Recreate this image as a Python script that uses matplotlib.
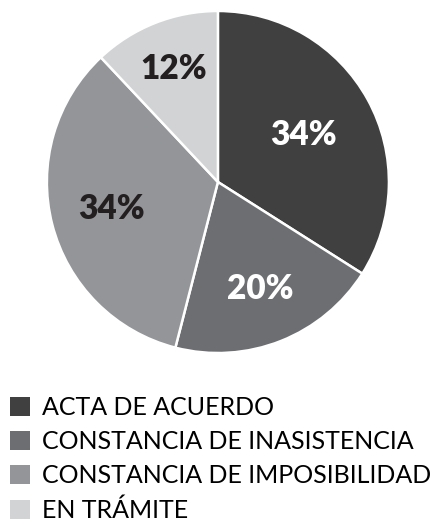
import numpy as np
import matplotlib.pyplot as plt
from matplotlib.patches import Patch

labels = ["ACTA DE ACUERDO", "CONSTANCIA DE INASISTENCIA",
          "CONSTANCIA DE IMPOSIBILIDAD", "EN TRÁMITE"]
values = [34, 20, 34, 12]
colors = ["#404041", "#6d6e71", "#939598", "#d1d3d4"]
text_colors = ["white", "white", "#231f20", "#231f20"]
label_radius = [0.57, 0.67, 0.64, 0.71]

fig = plt.figure(figsize=(4.38, 5.23), dpi=100)
ax = fig.add_axes([0.107, 0.325, 0.781, 0.654])

wedges, _ = ax.pie(values, colors=colors, startangle=90, counterclock=False,
                   wedgeprops=dict(edgecolor="white", linewidth=1.8))
for w, v, c, r in zip(wedges, values, text_colors, label_radius):
    ang = np.deg2rad((w.theta1 + w.theta2) / 2)
    ax.text(r * np.cos(ang), r * np.sin(ang), f"{v}%", color=c,
            ha="center", va="center", fontsize=24, fontweight="heavy",
            family="Lato")
ax.set_xlim(-1, 1)
ax.set_ylim(-1, 1)
ax.set_aspect("equal")

handles = [Patch(facecolor=c, edgecolor="none") for c in colors]
fig.legend(handles, labels, loc="upper left", bbox_to_anchor=(0.0, 0.262),
           frameon=False, handlelength=0.78, handleheight=0.78,
           handletextpad=0.5, labelspacing=0.45, borderaxespad=0,
           prop=dict(family="Lato", weight="normal", size=18))

fig.savefig("out.png", dpi=100, facecolor="white")
